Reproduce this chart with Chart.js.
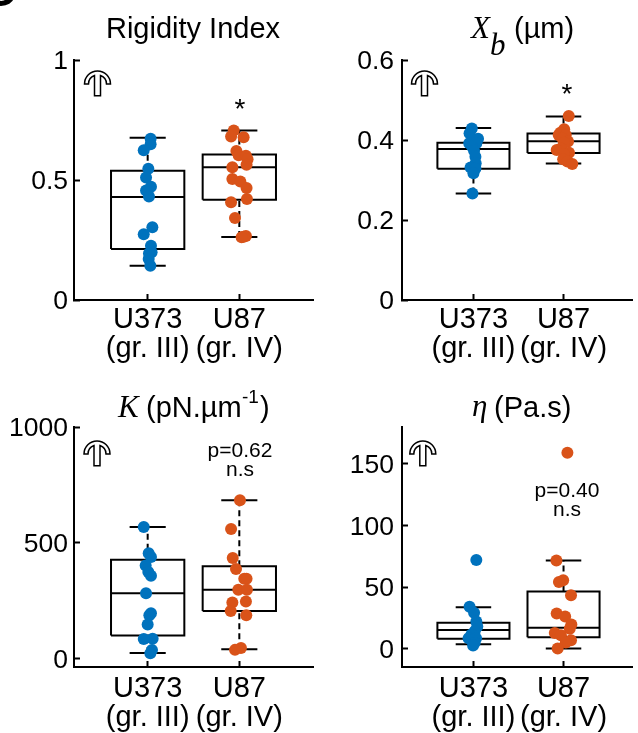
<!DOCTYPE html>
<html>
<head>
<meta charset="utf-8">
<title>Rigidity panels</title>
<script src="https://cdn.jsdelivr.net/npm/chart.js@4"></script>
<style>
  html, body { margin: 0; padding: 0; background: #fff; overflow: hidden; }
  canvas { position: absolute; }
</style>
</head>
<body>
<canvas id="panelA" style="left:0;top:0"></canvas>
<canvas id="panelB" style="left:320px;top:0"></canvas>
<canvas id="panelC" style="left:0;top:367px"></canvas>
<canvas id="panelD" style="left:320px;top:367px"></canvas>
<script>
const categories = [['U373', '(gr. III)'], ['U87', '(gr. IV)']];

// y values + horizontal jitter (category units)
const rigidityU373 = [0.672, 0.649, 0.624, 0.547, 0.51, 0.472, 0.456, 0.431, 0.303, 0.274, 0.226, 0.199, 0.194, 0.171, 0.143];
const rigidityU373Jitter = [0.032, 0.032, -0.043, 0.007, -0.018, 0.036, -0.018, 0.014, 0.051, -0.043, 0.036, 0.043, 0.014, 0.011, 0.029];
const rigidityU87 = [0.706, 0.681, 0.678, 0.621, 0.603, 0.601, 0.586, 0.564, 0.553, 0.504, 0.494, 0.467, 0.421, 0.407, 0.342, 0.267, 0.264, 0.261];
const rigidityU87Jitter = [-0.061, -0.09, 0.047, -0.032, -0.007, 0.072, 0.09, 0.079, -0.076, -0.076, 0.011, 0.079, 0.083, -0.09, -0.047, 0.072, 0.047, 0.025];
// box stats: low whisker, q1, median, q3, high whisker
const rigidityBoxU373 = [0.143, 0.2125, 0.429, 0.539, 0.676];
const rigidityBoxU87 = [0.2625, 0.418, 0.553, 0.606, 0.706];
const rigidityTicks = [0, 0.5, 1];

const xbU373 = [0.429, 0.417, 0.403, 0.392, 0.392, 0.383, 0.373, 0.358, 0.342, 0.331, 0.329, 0.317, 0.266];
const xbU373Jitter = [-0.018, -0.043, 0.051, -0.047, 0.032, -0.014, 0.007, 0.022, 0.025, -0.032, 0.022, 0, -0.011];
const xbU87 = [0.46, 0.427, 0.418, 0.4125, 0.4125, 0.404, 0.396, 0.393, 0.379, 0.375, 0.368, 0.365, 0.352, 0.346, 0.34];
const xbU87Jitter = [0.058, 0.007, -0.036, -0.054, 0.025, -0.011, 0.05, 0.007, -0.029, -0.076, 0.061, 0.007, -0.004, 0.043, 0.097];
const xbBoxU373 = [0.266, 0.328, 0.3775, 0.393, 0.43];
const xbBoxU87 = [0.341, 0.3675, 0.397, 0.416, 0.459];
const xbTicks = [0, 0.2, 0.4, 0.6];

const kU373 = [568, 454, 438, 402, 373, 357, 282, 195, 187, 147, 85, 84, 36, 22];
const kU373Jitter = [-0.043, 0.011, 0.036, -0.022, 0.007, 0.036, -0.018, 0.036, 0.018, 0, 0.054, -0.043, 0.047, 0.029];
const kU87 = [683, 559, 434, 386, 344, 344, 297, 297, 246, 242, 205, 187, 45, 37];
const kU87Jitter = [0.007, -0.09, -0.072, -0.036, 0.054, 0.079, -0.011, 0.083, 0.072, -0.076, -0.094, 0.076, 0.018, -0.047];
const kBoxU373 = [23, 99, 282, 426, 568];
const kBoxU87 = [40, 205, 297, 398, 683];
const kTicks = [0, 500, 1000];

const etaU373 = [72, 34, 29, 22, 18, 14, 11.4, 8.4, 8.4, 6.8, 4.6, 2.4];
const etaU373Jitter = [0.032, -0.043, 0.007, 0.032, 0.043, 0.014, -0.022, -0.054, 0.029, -0.014, 0.014, -0.004];
const etaU87 = [159, 71.5, 55.5, 54, 43.3, 28.4, 26, 19.5, 16, 12.7, 10.8, 6.8, 5, 0];
const etaU87Jitter = [0.043, -0.079, -0.004, -0.051, 0.083, -0.076, 0.018, 0.087, 0.069, -0.097, -0.029, 0.083, 0.025, -0.065];
const etaBoxU373 = [3.5, 8, 15, 21, 33.5];
const etaBoxU87 = [0, 9.2, 16.8, 46.3, 71.5];
const etaTicks = [0, 50, 100, 150];

const BLUE = '#0072BD';
const ORANGE = '#D95319';
const SANS = '"Liberation Sans", Arial, sans-serif';
const SERIF = '"Liberation Serif", "Times New Roman", serif';
const BOX_HALF = 0.4;
const CAP_HALF = 0.197;

function segment(points, extra) {
  return Object.assign({
    data: points,
    showLine: true,
    pointRadius: 0,
    borderColor: '#000',
    borderWidth: 2,
    borderJoinStyle: 'miter',
    fill: false,
  }, extra);
}

function boxDatasets(pos, box) {
  const [low, q1, med, q3, high] = box;
  const left = pos - BOX_HALF;
  const right = pos + BOX_HALF;
  const dash = { borderDash: [6, 4] };
  return [
    segment([{ x: left, y: q1 }, { x: right, y: q1 }, { x: right, y: q3 }, { x: left, y: q3 }, { x: left, y: q1 }]),
    segment([{ x: left, y: med }, { x: right, y: med }]),
    segment([{ x: pos - CAP_HALF, y: high }, { x: pos + CAP_HALF, y: high }]),
    segment([{ x: pos - CAP_HALF, y: low }, { x: pos + CAP_HALF, y: low }]),
    segment([{ x: pos, y: q3 }, { x: pos, y: high }], dash),
    segment([{ x: pos, y: low }, { x: pos, y: q1 }], dash),
  ];
}

function dotDataset(pos, values, jitter, color) {
  return {
    data: values.map((v, i) => ({ x: pos + jitter[i], y: v })),
    showLine: false,
    pointRadius: 6,
    pointBorderWidth: 0,
    backgroundColor: color,
  };
}

// mushroom-shaped arrow used as the "increase" marker
function drawArrow(ctx, cx, cy) {
  const outer = 13;
  const inner = 9;
  const stem = 3;
  const stemBottom = cy + 11.7;
  const a = Math.acos(stem / inner);
  ctx.beginPath();
  ctx.moveTo(cx - stem, stemBottom);
  ctx.lineTo(cx - stem, cy - inner * Math.sin(a));
  ctx.arc(cx, cy, inner, Math.PI + a, Math.PI, true);
  ctx.lineTo(cx - outer, cy);
  ctx.arc(cx, cy, outer, Math.PI, 0);
  ctx.lineTo(cx + inner, cy);
  ctx.arc(cx, cy, inner, 0, -a, true);
  ctx.lineTo(cx + stem, stemBottom);
  ctx.closePath();
  ctx.lineWidth = 1.5;
  ctx.strokeStyle = '#000';
  ctx.stroke();
}

// Draws titles, p-values and arrow, given page coordinates
const annotationPlugin = {
  id: 'panelAnnotations',
  beforeDraw(chart) {
    // the y labels sit about 2px under their ticks in the figure
    chart.scales.y.getLabelItems().forEach((item) => {
      item.options.translation[1] += 2;
    });
  },
  afterDraw(chart, args, opts) {
    const ctx = chart.ctx;
    ctx.save();
    ctx.translate(-opts.left, -opts.top);
    ctx.fillStyle = '#000';
    ctx.textBaseline = 'alphabetic';
    opts.texts.forEach((t) => {
      ctx.font = t.font;
      ctx.textAlign = t.align || 'left';
      ctx.fillText(t.text, t.x, t.y);
    });
    drawArrow(ctx, opts.arrow[0], opts.arrow[1]);
    ctx.restore();
  },
};

function makePanel(id, cfg) {
  const canvas = document.getElementById(id);
  return new Chart(canvas, {
    type: 'scatter',
    data: {
      datasets: [
        dotDataset(1, cfg.u373, cfg.u373Jitter, BLUE),
        dotDataset(2, cfg.u87, cfg.u87Jitter, ORANGE),
        ...boxDatasets(1, cfg.boxU373),
        ...boxDatasets(2, cfg.boxU87),
      ],
    },
    options: {
      responsive: false,
      animation: false,
      layout: { padding: { top: 60, right: cfg.padRight } },
      scales: {
        x: {
          type: 'linear',
          min: cfg.xMin,
          max: cfg.xMax,
          afterBuildTicks(axis) { axis.ticks = [{ value: 1 }, { value: 2 }]; },
          afterFit(axis) { axis.height = 66; },
          border: { color: '#000', width: 2 },
          grid: { drawOnChartArea: false, tickLength: -6, tickColor: '#000', tickWidth: 2 },
          ticks: {
            autoSkip: false,
            maxRotation: 0,
            color: '#000',
            padding: cfg.xLabelPad,
            font: { family: SANS, size: 29, lineHeight: 1 },
            callback: (v) => categories[v - 1],
          },
        },
        y: {
          type: 'linear',
          min: cfg.yMin,
          max: cfg.yMax,
          afterBuildTicks(axis) { axis.ticks = cfg.yTicks.map((v) => ({ value: v })); },
          afterFit(axis) { axis.width = cfg.axisLeft; },
          border: { color: '#000', width: 2 },
          grid: { drawOnChartArea: false, tickLength: -6, tickColor: '#000', tickWidth: 2 },
          ticks: {
            color: '#000',
            padding: cfg.yLabelPad,
            font: { family: SANS, size: 26.5 },
            callback: (v) => String(v),
          },
        },
      },
      plugins: {
        legend: { display: false },
        tooltip: { enabled: false },
        panelAnnotations: { left: cfg.left, top: cfg.top, texts: cfg.texts, arrow: cfg.arrow },
      },
    },
    plugins: [annotationPlugin],
  });
}

function sizeCanvas(id, w, h) {
  const c = document.getElementById(id);
  c.width = w;
  c.height = h;
  c.style.width = w + 'px';
  c.style.height = h + 'px';
}
sizeCanvas('panelA', 319, 366);
sizeCanvas('panelB', 318, 366);
sizeCanvas('panelC', 319, 366);
sizeCanvas('panelD', 318, 366);

const TITLE = '29px ' + SANS;
const ITALIC = 'italic 31px ' + SERIF;
const NOTE = '21px ' + SANS;

makePanel('panelA', {
  left: 0, top: 0, axisLeft: 74, padRight: 5, xMin: 0.196, xMax: 2.804,
  yMin: 0, yMax: 1, yTicks: rigidityTicks, xLabelPad: 11, yLabelPad: 12,
  u373: rigidityU373, u373Jitter: rigidityU373Jitter, u87: rigidityU87, u87Jitter: rigidityU87Jitter,
  boxU373: rigidityBoxU373, boxU87: rigidityBoxU87,
  arrow: [97.5, 84],
  texts: [
    { text: 'C', font: 'bold 44px ' + SANS, x: -16, y: 6 },
    { text: 'Rigidity Index', font: TITLE, x: 193, y: 38, align: 'center' },
    { text: '*', font: '28px ' + SANS, x: 240, y: 118, align: 'center' },
  ],
});

makePanel('panelB', {
  left: 320, top: 0, axisLeft: 82, padRight: 0, xMin: 0.207, xMax: 2.76,
  yMin: 0, yMax: 0.6, yTicks: xbTicks, xLabelPad: 11, yLabelPad: 14,
  u373: xbU373, u373Jitter: xbU373Jitter, u87: xbU87, u87Jitter: xbU87Jitter,
  boxU373: xbBoxU373, boxU87: xbBoxU87,
  arrow: [424.5, 84],
  texts: [
    { text: 'X', font: ITALIC, x: 471, y: 38 },
    { text: 'b', font: ITALIC, x: 490, y: 55 },
    { text: '(µm)', font: TITLE, x: 514, y: 38 },
    { text: '*', font: '28px ' + SANS, x: 567, y: 103, align: 'center' },
  ],
});

makePanel('panelC', {
  left: 0, top: 367, axisLeft: 74, padRight: 5, xMin: 0.196, xMax: 2.804,
  yMin: -37, yMax: 1000, yTicks: kTicks, xLabelPad: 13, yLabelPad: 12,
  u373: kU373, u373Jitter: kU373Jitter, u87: kU87, u87Jitter: kU87Jitter,
  boxU373: kBoxU373, boxU87: kBoxU87,
  arrow: [97, 454],
  texts: [
    { text: 'K', font: ITALIC, x: 118, y: 417 },
    { text: '(pN.µm', font: TITLE, x: 146, y: 417 },
    { text: '-1', font: '19px ' + SANS, x: 242, y: 403 },
    { text: ')', font: TITLE, x: 260, y: 417 },
    { text: 'p=0.62', font: NOTE, x: 240, y: 457, align: 'center' },
    { text: 'n.s', font: NOTE, x: 240, y: 476, align: 'center' },
  ],
});

makePanel('panelD', {
  left: 320, top: 367, axisLeft: 82, padRight: 0, xMin: 0.207, xMax: 2.76,
  yMin: -15, yMax: 180, yTicks: etaTicks, xLabelPad: 13, yLabelPad: 14,
  u373: etaU373, u373Jitter: etaU373Jitter, u87: etaU87, u87Jitter: etaU87Jitter,
  boxU373: etaBoxU373, boxU87: etaBoxU87,
  arrow: [422.8, 454],
  texts: [
    { text: 'η', font: ITALIC, x: 472, y: 416 },
    { text: '(Pa.s)', font: TITLE, x: 494, y: 417 },
    { text: 'p=0.40', font: NOTE, x: 567, y: 497, align: 'center' },
    { text: 'n.s', font: NOTE, x: 567, y: 516, align: 'center' },
  ],
});
</script>
</body>
</html>
